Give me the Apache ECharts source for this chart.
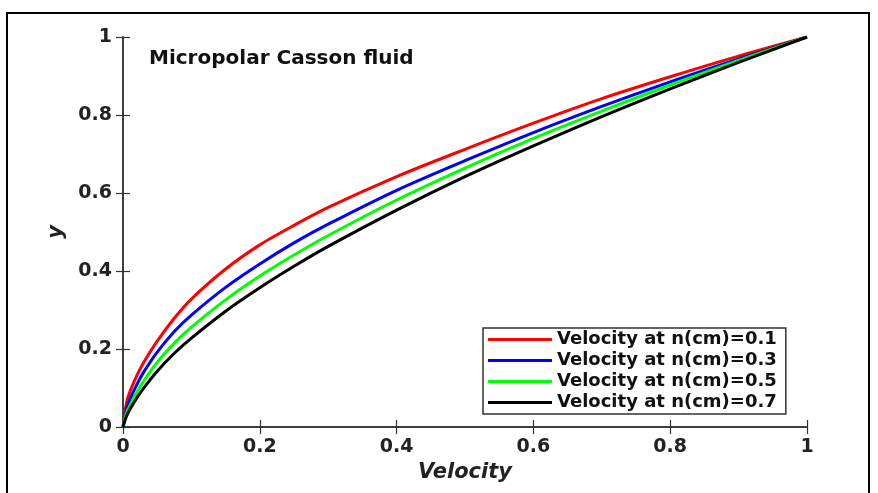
<!DOCTYPE html>
<html>
<head>
<meta charset="utf-8">
<script src="https://cdn.jsdelivr.net/npm/echarts@6/dist/echarts.min.js"></script>
<style>
html,body{margin:0;padding:0;background:#fff;}
#chart{width:878px;height:493px;}
</style>
</head>
<body>
<div id="chart"></div>
<script>
// ---- data ----
var xVelocity = [0, 0.005, 0.01, 0.02, 0.03, 0.05, 0.075, 0.1, 0.15, 0.2, 0.25, 0.3, 0.4, 0.5, 0.6, 0.7, 0.8, 0.9, 1];
var yN01 = [0, 0.061, 0.09, 0.131, 0.165, 0.22, 0.279, 0.328, 0.405, 0.467, 0.517, 0.563, 0.642, 0.712, 0.779, 0.842, 0.898, 0.951, 1];
var yN03 = [0, 0.045, 0.07, 0.108, 0.14, 0.192, 0.245, 0.287, 0.358, 0.418, 0.472, 0.52, 0.607, 0.683, 0.755, 0.822, 0.885, 0.944, 1];
var yN05 = [0, 0.035, 0.055, 0.088, 0.117, 0.166, 0.215, 0.256, 0.326, 0.387, 0.441, 0.491, 0.582, 0.664, 0.740, 0.810, 0.877, 0.940, 1];
var yN07 = [0, 0.027, 0.045, 0.074, 0.099, 0.143, 0.189, 0.228, 0.297, 0.357, 0.412, 0.463, 0.556, 0.642, 0.721, 0.796, 0.867, 0.935, 1];
var seriesNames = ['Velocity at n(cm)=0.1', 'Velocity at n(cm)=0.3', 'Velocity at n(cm)=0.5', 'Velocity at n(cm)=0.7'];
var seriesColors = ['#ff0000', '#0000ff', '#00ff00', '#000000'];
var axisTickValues = [0, 0.2, 0.4, 0.6, 0.8, 1];
var chartTitle = 'Micropolar Casson fluid';
var xAxisName = 'Velocity';
var yAxisName = 'y';

function pairs(xs, ys){ return xs.map(function(x,i){ return [x, ys[i]]; }); }
var allY = [yN01, yN03, yN05, yN07];

var FONT = 'DejaVu Sans';
var axisColor = '#333';
var tickInterval = axisTickValues[1] - axisTickValues[0];

function mainAxis(pos, name, gap){
  return {
    type: 'value', position: pos, min: axisTickValues[0], max: axisTickValues[axisTickValues.length-1], interval: tickInterval,
    name: name, nameLocation: 'middle', nameGap: gap,
    nameTextStyle: {fontFamily: FONT, fontWeight: 'bold', fontStyle: 'italic', fontSize: 21, color: '#222'},
    axisLine: {show: true, lineStyle: {color: axisColor, width: 1.5}},
    axisTick: {show: true, inside: true, length: 7, lineStyle: {color: axisColor, width: 1.2}},
    axisLabel: {show: true, fontFamily: FONT, fontWeight: 'bold', fontSize: 19, color: '#222', margin: 11},
    splitLine: {show: false}
  };
}
function mirrorAxis(pos){
  return {
    type: 'value', position: pos, min: axisTickValues[0], max: axisTickValues[axisTickValues.length-1], interval: tickInterval,
    axisLine: {show: true, lineStyle: {color: axisColor, width: 1.5}},
    axisTick: {show: true, inside: true, length: 7, lineStyle: {color: axisColor, width: 1.2}},
    axisLabel: {show: false}, splitLine: {show: false}
  };
}

var chart = echarts.init(document.getElementById('chart'), null, {renderer: 'canvas'});
var option = {
  backgroundColor: '#fff',
  animation: false,
  title: {
    text: chartTitle, left: 144, top: 44,
    textStyle: {fontFamily: FONT, fontWeight: 'bold', fontSize: 20, color: '#111'}
  },
  grid: {left: 123, right: 71, top: 37, bottom: 66},
  legend: {
    orient: 'vertical', left: 483, top: 328,
    padding: [1, 9, 1, 5], itemGap: 0,
    itemWidth: 64, itemHeight: 3, icon: 'rect',
    backgroundColor: '#fff', borderColor: '#333', borderWidth: 1.5,
    textStyle: {fontFamily: FONT, fontWeight: 'bold', fontSize: 18, color: '#111', lineHeight: 21},
    data: seriesNames
  },
  xAxis: [mainAxis('bottom', xAxisName, 32), mirrorAxis('top')],
  yAxis: [mainAxis('left', yAxisName, 53), mirrorAxis('right')],
  graphic: [{
    type: 'rect', silent: true, z: 100,
    shape: {x: 7, y: 13, width: 862, height: 500},
    style: {fill: 'none', stroke: '#000', lineWidth: 2}
  }],
  series: seriesNames.map(function(n, i){
    return {
      name: n, type: 'line', xAxisIndex: 0, yAxisIndex: 0,
      data: pairs(xVelocity, allY[i]),
      showSymbol: false, symbol: 'none',
      smooth: 0.3,
      lineStyle: {color: seriesColors[i], width: 3},
      itemStyle: {color: seriesColors[i]},
      z: 2 + i
    };
  })
};
chart.setOption(option);
</script>
</body>
</html>
